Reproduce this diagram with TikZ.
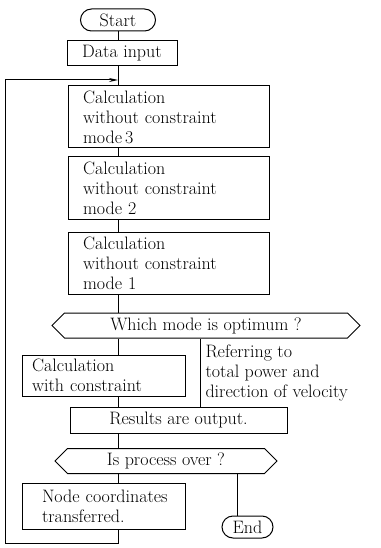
\documentclass[tikz,border=0pt]{standalone}
\usepackage{tikz}
\usetikzlibrary{shapes.symbols,arrows.meta}

\begin{document}
\begin{tikzpicture}[x=1pt,y=-1pt,line width=1pt,
    every node/.style={font=\fontsize{18}{20}\selectfont},
    term/.style={draw,rounded corners=11pt,minimum height=22pt,inner xsep=10pt},
    proc/.style={draw,align=left,text width=#1,inner xsep=15pt,inner ysep=4pt},
    ask/.style={draw,signal,signal to=west and east,minimum height=25pt,minimum width=#1}]
    \useasboundingbox (0,0) rectangle (380,548);
    % main column and loop corners
    \coordinate (axis) at (118,0);
    \coordinate (refx) at (200,0);
    \coordinate (endx) at (237,0);
    \coordinate (loopin) at (118,80);
    \coordinate (loopbl) at (5,543);

    \node[term,minimum width=75pt] (start) at (118,20) {Start};
    \node[draw,minimum width=110pt,minimum height=25pt] (input) at (122,53) {Data input};
    \node[proc=171pt,minimum height=62pt] (mode3) at (168.5,117) {Calculation\\without constraint\\mode\,3};
    \node[proc=171pt,minimum height=62pt] (mode2) at (168.5,188) {Calculation\\without constraint\\mode 2};
    \node[proc=171pt,minimum height=62pt] (mode1) at (168.5,263) {Calculation\\without constraint\\mode 1};
    \node[ask=308pt] (optimum) at (206,325.5) {Which mode is optimum ?};
    \node[proc=143pt,inner xsep=10pt,minimum height=41pt] (constr) at (103.5,375.5) {Calculation\\with constraint};
    \node[anchor=west,align=left,inner sep=0pt] (refer) at (205,373) {Referring to\\total power and\\direction of velocity};
    \node[draw,minimum width=217pt,minimum height=26pt] (output) at (178.5,420) {Results are output.};
    \node[ask=222pt] (over) at (166,461) {Is process over ?};
    \node[proc=123pt,inner xsep=20pt,minimum height=46pt] (transfer) at (103.5,506) {\mbox{Node coordinates}\\transferred.};
    \node[term,minimum width=51pt] (end) at (247.5,527) {End};

    \draw (start.south -| axis) -- (input.north -| axis);
    \draw (input.south -| axis) -- (mode3.north -| axis);
    \draw (mode3.south -| axis) -- (mode2.north -| axis);
    \draw (mode2.south -| axis) -- (mode1.north -| axis);
    \draw (mode1.south -| axis) -- (optimum.north -| axis);
    \draw (optimum.south -| axis) -- (constr.north -| axis);
    \draw (optimum.south -| refx) -- (output.north -| refx);
    \draw (constr.south -| axis) -- (output.north -| axis);
    \draw (output.south -| axis) -- (over.north -| axis);
    \draw (over.south -| axis) -- (transfer.north -| axis);
    \draw (over.south -| endx) -- (end.north -| endx);
    \draw[-{Stealth[length=9pt,width=4pt]}] (transfer.south -| axis) |- (loopbl) |- (loopin);
\end{tikzpicture}
\end{document}
